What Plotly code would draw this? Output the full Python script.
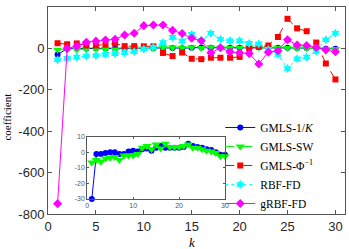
import plotly.graph_objects as go

k = list(range(1, 31))

gmls_invK = [-30, -1, -1, -0.5, 0, 0, -1, -1, 0.5, 1, 0.5, 2, 2.5, 1, 3, 4, 3, 3, 3, 3,
             3.5, 5.5, 4, 3.5, 3, 2, 1.5, 0, -1.5, -1.5]
gmls_sw = [-6.5, -5, -6, -4, -3.5, -3, -5, -2, -2, -2, -1, 3, 4, 2, 5, 2.5, 5.5, 3.5, 3.5, 3.5,
           4, 5, 3, 3, 2, 1, 0.5, -0.5, -2.5, -2.5]
gmls_phi = [25, 20, 24, 14, 14, 18, 24, 11, 11, 10, 10, -22, -37, -20, -50, -52, -45, -45, -45, -41,
            0, 7, 14, 55, 143, 97, 83, 28, -73, -150]
rbf_fd = [-55, -48, -42, -37, -34, -29, -25, -21, -16, -3, 5, 28, 53, 35, 68, 38, 73, 44, 37, 37,
          24, 22, -5, -29, -97, -50, -42, -14, 42, 73]
grbf_fd = [-750, 0, 10, 30, 35, 40, 44, 65, 73, 110, 113, 113, 87, 72, 49, 37, -21, 3, -17, -21,
           -25, -75, -18, -11, 42, 16, 14, 4, -8, -16]

names = ["GMLS-1/<i>K</i>", "GMLS-SW", "GMLS-Φ<sup>−1</sup>", "RBF-FD", "gRBF-FD"]

x_ticks = [0, 5, 10, 15, 20, 25, 30]
y_ticks = [200, 0, -200, -400, -600, -800]
y_ticktext = ["200", "0", "-200", "-400", "-600", "-800"]
inset_x_ticks = [0, 10, 20, 30]
inset_y_ticks = [10, 0, -10, -20, -30]
inset_y_ticktext = ["10", "0", "-10", "-20", "-30"]

styles = [
    dict(color="#0000ff", dash="solid", symbol="circle", size=6),
    dict(color="#00ff00", dash="dash", symbol="triangle-down", size=8),
    dict(color="#ff0000", dash="dash", symbol="square", size=6),
    dict(color="#00ffff", dash="dot", symbol="hexagram", size=7),
    dict(color="#ff00ff", dash="solid", symbol="diamond", size=7),
]
series = [gmls_invK, gmls_sw, gmls_phi, rbf_fd, grbf_fd]

fig = go.Figure()
for name, ys, st in zip(names, series, styles):
    fig.add_trace(go.Scatter(
        x=k, y=ys, name=name, mode="lines+markers",
        line=dict(color=st["color"], dash=st["dash"], width=1),
        marker=dict(color=st["color"], symbol=st["symbol"], size=st["size"], line=dict(width=0)),
        xaxis="x", yaxis="y", cliponaxis=False,
    ))

for ys, st in zip([gmls_invK, gmls_sw], styles[:2]):
    fig.add_trace(go.Scatter(
        x=k, y=ys, mode="lines+markers", showlegend=False,
        line=dict(color=st["color"], dash=st["dash"], width=1),
        marker=dict(color=st["color"], symbol=st["symbol"], size=st["size"], line=dict(width=0)),
        xaxis="x2", yaxis="y2", cliponaxis=False,
    ))

axis_common = dict(showline=True, linecolor="#555555", linewidth=1, mirror="ticks",
                   ticks="inside", tickcolor="#555555", showgrid=False, zeroline=False)

fig.update_layout(
    width=349, height=249,
    margin=dict(l=48, r=0, t=7, b=35),
    paper_bgcolor="white", plot_bgcolor="white",
    xaxis=dict(domain=[0, 1], range=[0, 31], tickvals=x_ticks, ticklen=4,
               tickfont=dict(family="Liberation Sans", size=13, color="#262626"), **axis_common),
    yaxis=dict(domain=[0, 1], range=[-800, 200], tickvals=y_ticks, ticktext=y_ticktext, ticklen=4,
               tickfont=dict(family="Liberation Sans", size=13, color="#262626"), **axis_common),
    xaxis2=dict(domain=[0.132, 0.596], anchor="y2", range=[0, 30], tickvals=inset_x_ticks, ticklen=2,
                tickfont=dict(family="Liberation Sans", size=7, color="#555555"), **axis_common),
    yaxis2=dict(domain=[0.0725, 0.373], anchor="x2", range=[-30, 10], tickvals=inset_y_ticks,
                ticktext=inset_y_ticktext, ticklen=2,
                tickfont=dict(family="Liberation Sans", size=7, color="#555555"), **axis_common),
    legend=dict(x=0.58, y=0.488, xanchor="left", yanchor="top",
                bgcolor="rgba(0,0,0,0)", borderwidth=0, itemwidth=30, tracegroupgap=0,
                font=dict(family="Liberation Serif", size=11.5, color="#000000")),
    annotations=[
        dict(text="coefficient", xref="paper", yref="paper", x=-0.1395, y=0.4686,
             textangle=-90, showarrow=False, xanchor="center", yanchor="middle",
             font=dict(family="Liberation Serif", size=11, color="#000000")),
        dict(text="<i>k</i>", xref="paper", yref="paper", x=0.485, y=-0.138,
             showarrow=False, xanchor="center", yanchor="middle",
             font=dict(family="Liberation Serif", size=13, color="#000000")),
    ],
)

fig.write_html("out.html", config={"displayModeBar": False},
               post_script="document.body.style.margin='0';document.body.style.overflow='hidden';")
